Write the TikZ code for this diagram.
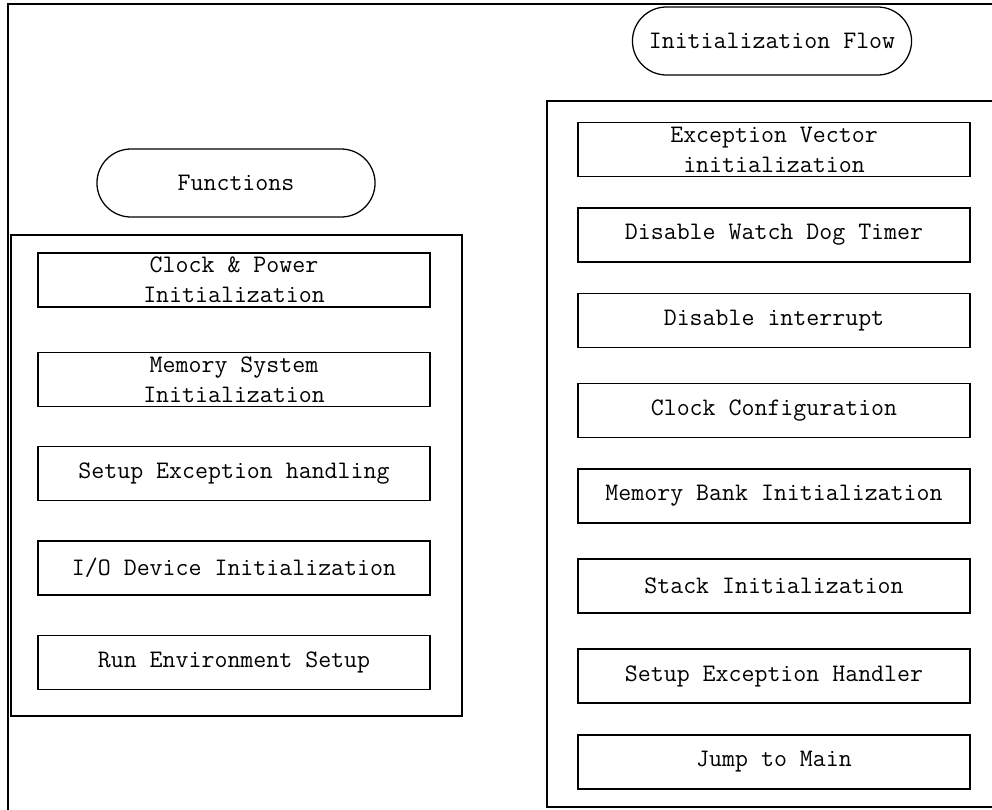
\documentclass[tikz,border=0pt]{standalone}
\usepackage{fontspec}
\usetikzlibrary{positioning}

\begin{document}
\begin{tikzpicture}[
        x=0.025cm, y=-0.025cm,
        every node/.style={font=\ttfamily\fontsize{17.9}{21.3}\selectfont},
        box/.style={draw, line width=1pt, minimum width=9.8cm, minimum height=1.35cm, inner ysep=0pt, align=center},
        title/.style={draw, line width=0.9pt, minimum height=1.7cm, rounded corners=0.85cm},
        frame/.style={draw, line width=1pt, inner sep=0pt}
    ]
        \useasboundingbox (0,0) rectangle (992,809);
        \clip (0,0) rectangle (992,809);

        % Outer frame
        \draw[line width=1.4pt] (8,830) -- (8,4) -- (1010,4);

        % Functions
        \node[title, minimum width=6.95cm] (func) at (236,183) {Functions};
        \node[frame, minimum width=11.275cm, minimum height=12.025cm] (funcbox) at (236.5,475.5) {};

        \node[box] (clk) at (234,280) {Clock \& Power\\Initialization};
        \node[box] (mem) at (234,379.5) {Memory System\\Initialization};
        \node[box] (exc) at (234,473.5) {Setup Exception handling};
        \node[box] (io) at (234,568) {I/O Device Initialization};
        \node[box] (env) at (234,662.5) {Run Environment Setup};

        % Initialization flow
        \node[title, minimum width=6.975cm] (flow) at (772,41) {Initialization Flow};
        \draw[line width=1pt] (1010,101) -- (547,101) -- (547,807) -- (1010,807);

        \node[box] (vec) at (774,149.5) {Exception Vector\\initialization};
        \node[box] (wdt) at (774,235) {Disable Watch Dog Timer};
        \node[box] (irq) at (774,320.5) {Disable interrupt};
        \node[box] (clkcfg) at (774,410.5) {Clock Configuration};
        \node[box] (bank) at (774,496) {Memory Bank Initialization};
        \node[box] (stack) at (774,586) {Stack Initialization};
        \node[box] (handler) at (774,676) {Setup Exception Handler};
        \node[box] (main) at (774,762) {Jump to Main};
    \end{tikzpicture}
\end{document}
